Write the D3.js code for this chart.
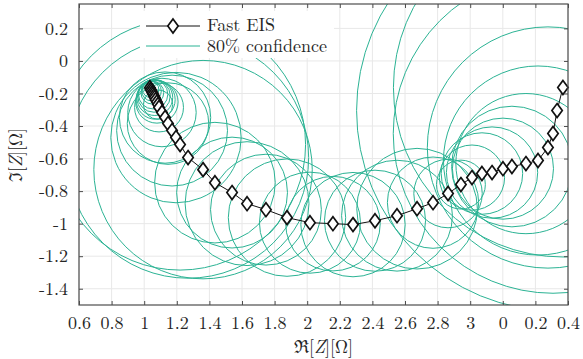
<!DOCTYPE html>
<html><head><meta charset="utf-8">
<script src="https://cdn.jsdelivr.net/npm/d3@7"></script>
<style>body{margin:0;background:#fff}svg{display:block}</style>
</head><body>
<svg id="c" width="583" height="359"></svg>
<script>
const zReal = [1.035,1.040,1.045,1.050,1.055,1.060,1.065,1.070,1.078,1.085,1.091,1.109,1.128,1.146,1.171,1.195,1.220,1.269,1.361,1.434,1.539,1.631,1.747,1.876,2.017,2.158,2.281,2.416,2.551,2.674,2.772,2.864,2.943,3.011,3.072,3.134,3.201,3.256,3.342,3.416,3.477,3.508,3.533,3.569];
const zImag = [-0.165,-0.175,-0.185,-0.195,-0.205,-0.215,-0.225,-0.238,-0.252,-0.268,-0.286,-0.317,-0.348,-0.385,-0.428,-0.471,-0.514,-0.594,-0.668,-0.748,-0.809,-0.877,-0.914,-0.963,-0.994,-1.000,-1.006,-0.982,-0.951,-0.908,-0.871,-0.815,-0.760,-0.717,-0.692,-0.686,-0.662,-0.649,-0.631,-0.612,-0.532,-0.446,-0.305,-0.163];
const confRadius = [0.03,0.05,0.06,0.07,0.09,0.10,0.11,0.12,0.13,0.09,0.15,0.21,0.28,0.25,0.34,0.40,0.77,0.74,0.67,0.37,0.34,0.38,0.34,0.36,0.31,0.29,0.32,0.31,0.34,0.37,0.28,0.21,0.15,0.20,0.25,0.28,0.31,0.37,0.43,0.58,0.74,0.98,1.23,1.04];
const xTickValues = [0.6,0.8,1,1.2,1.4,1.6,1.8,2,2.2,2.4,2.6,2.8,3,3.2,3.4,3.6];
const xTickLabels = ["0.6","0.8","1","1.2","1.4","1.6","1.8","2","2.2","2.4","2.6","2.8","3","0","0.2","0.4"];
const yTickValues = [-1.4,-1.2,-1,-0.8,-0.6,-0.4,-0.2,0,0.2];
const yTickLabels = ["-1.4","-1.2","-1","-0.8","-0.6","-0.4","-0.2","0","0.2"];
const seriesNames = ["Fast EIS","80% confidence"];

const W=583,H=359, m={l:79,r:15,t:4,b:54};
const x = d3.scaleLinear().domain([0.6,3.6]).range([m.l, W-m.r]);
const y = d3.scaleLinear().domain([-1.5,0.35]).range([H-m.b, m.t]);
const teal = "#2bb394", axisCol="#4d4d4d", textCol="#262626";
const FONT = '"Latin Modern Roman"';
const FS = "18px";
const svg = d3.select("#c");
const pw = W-m.l-m.r, ph = H-m.t-m.b;

svg.append("defs").append("clipPath").attr("id","clip").append("rect")
  .attr("x",m.l).attr("y",m.t).attr("width",pw).attr("height",ph);

// grid
const g = svg.append("g");
g.selectAll(".gx").data(xTickValues).join("line")
  .attr("x1",d=>x(d)).attr("x2",d=>x(d)).attr("y1",m.t).attr("y2",H-m.b)
  .attr("stroke","#e8e8e8").attr("stroke-width",1);
g.selectAll(".gy").data(yTickValues).join("line")
  .attr("y1",d=>y(d)).attr("y2",d=>y(d)).attr("x1",m.l).attr("x2",W-m.r)
  .attr("stroke","#e8e8e8").attr("stroke-width",1);

const pts = zReal.map((v,i)=>({re:v, im:zImag[i], r:confRadius[i]}));

// confidence circles
svg.append("g").attr("clip-path","url(#clip)")
  .selectAll("circle").data(pts).join("circle")
  .attr("cx",d=>x(d.re)).attr("cy",d=>y(d.im))
  .attr("r",d=>x(0.6+d.r)-x(0.6))
  .attr("fill","none").attr("stroke",teal).attr("stroke-width",1);

// line
const line = d3.line().x(d=>x(d.re)).y(d=>y(d.im));
svg.append("path").datum(pts).attr("d",line).attr("fill","none")
  .attr("stroke","#111").attr("stroke-width",1);
const diamond = "M0,-7L5.2,0L0,7L-5.2,0Z";
svg.append("g").selectAll("path").data(pts).join("path")
  .attr("transform",d=>`translate(${x(d.re)},${y(d.im)})`)
  .attr("d",diamond).attr("fill","#fff").attr("stroke","#111").attr("stroke-width",1.7);

// axes frame
svg.append("rect").attr("x",m.l).attr("y",m.t).attr("width",pw).attr("height",ph)
  .attr("fill","none").attr("stroke",axisCol).attr("stroke-width",1.2);

const ax = d3.axisBottom(x).tickValues(xTickValues).tickSize(-4).tickFormat((d,i)=>xTickLabels[i]).tickPadding(11);
const axg = svg.append("g").attr("transform",`translate(0,${H-m.b})`).call(ax);
const axt = svg.append("g").attr("transform",`translate(0,${m.t})`).call(d3.axisTop(x).tickValues(xTickValues).tickSize(-4).tickFormat(""));
const ay = d3.axisLeft(y).tickValues(yTickValues).tickSize(-4).tickFormat((d,i)=>yTickLabels[i]).tickPadding(11);
const ayg = svg.append("g").attr("transform",`translate(${m.l},0)`).call(ay);
const ayr = svg.append("g").attr("transform",`translate(${W-m.r},0)`).call(d3.axisRight(y).tickValues(yTickValues).tickSize(-4).tickFormat(""));
[axg,axt,ayg,ayr].forEach(a=>{
  a.select(".domain").remove();
  a.selectAll(".tick line").attr("stroke",axisCol);
  a.selectAll("text").attr("fill",textCol).style("font-family",FONT).style("font-size",FS);
});

// axis labels
svg.append("text").attr("x",(m.l+W-m.r)/2).attr("y",353).attr("text-anchor","middle")
  .attr("fill",textCol).style("font-family",FONT).style("font-size",FS)
  .html('ℜ[<tspan font-style="italic">Z</tspan>][Ω]');
svg.append("text").attr("transform","translate(22,155) rotate(-90)").attr("text-anchor","middle")
  .attr("fill",textCol).style("font-family",FONT).style("font-size",FS)
  .html('ℑ[<tspan font-style="italic">Z</tspan>][Ω]');

// legend
const lg = svg.append("g");
lg.append("rect").attr("x",140).attr("y",11).attr("width",194).attr("height",47).attr("fill","#fff");
lg.append("line").attr("x1",146).attr("x2",200).attr("y1",26).attr("y2",26).attr("stroke","#111").attr("stroke-width",1);
lg.append("path").attr("transform","translate(173,26)").attr("d",diamond).attr("fill","#fff").attr("stroke","#111").attr("stroke-width",1.7);
lg.append("line").attr("x1",146).attr("x2",200).attr("y1",46).attr("y2",46).attr("stroke",teal).attr("stroke-width",1);
lg.selectAll("text").data(seriesNames).join("text")
  .attr("x",207).attr("y",(d,i)=>31+i*21).attr("fill",textCol)
  .style("font-family",FONT).style("font-size",FS).text(d=>d);
</script>
</body></html>
